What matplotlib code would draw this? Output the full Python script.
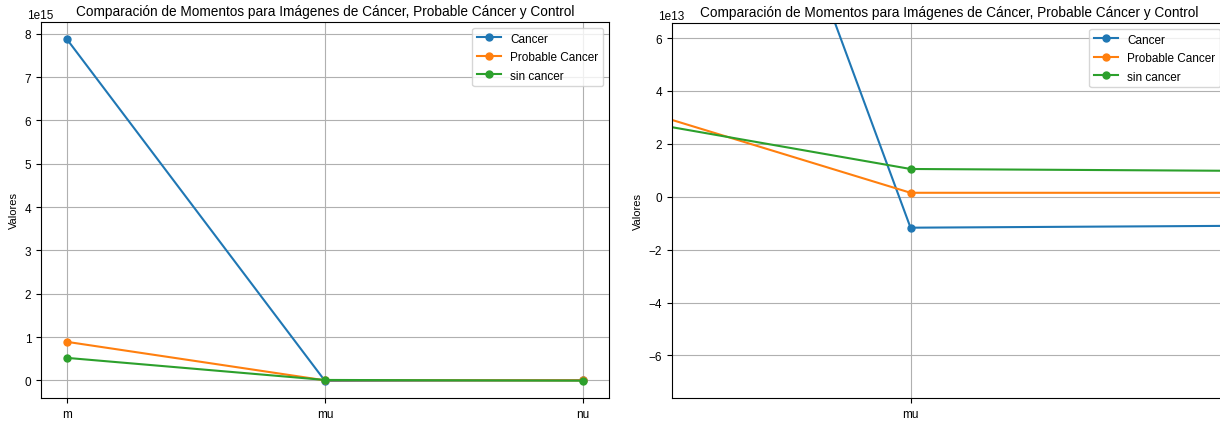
import matplotlib
matplotlib.use("Agg")
import matplotlib.pyplot as plt

plt.rcParams['font.family'] = ['Liberation Sans', 'DejaVu Sans']

momentos = ['m', 'mu', 'nu']
cancer = [7.875e15, -1.17e13, 0.5e13]
probable_cancer = [0.89e15, 0.15e13, 0.12e13]
sin_cancer = [0.52e15, 1.05e13, -0.6e13]
series = [('Cancer', cancer, '#1f77b4'),
          ('Probable Cancer', probable_cancer, '#ff7f0e'),
          ('sin cancer', sin_cancer, '#2ca02c')]

titulo = 'Comparación de Momentos para Imágenes de Cáncer, Probable Cáncer y Control'

W, H = 1220, 427
fig = plt.figure(figsize=(W / 100, H / 100), dpi=100)
ax1 = fig.add_axes([41 / W, (H - 399) / H, 568 / W, 376 / H])
ax2 = fig.add_axes([672 / W, (H - 399) / H, 554 / W, 375 / H])

x = list(range(len(momentos)))
for ax in (ax1, ax2):
    for label, vals, col in series:
        ax.plot(x, vals, marker='o', color=col, label=label, linewidth=1.5, markersize=5)
    ax.set_xticks(x)
    ax.set_xticklabels(momentos)
    ax.set_title(titulo, fontsize=9.8, pad=5)
    ax.set_xlabel('Momentos', fontsize=8.5, labelpad=5)
    ax.set_ylabel('Valores', fontsize=8)
    ax.grid(True)
    ax.tick_params(labelsize=8.5)
    ot = ax.yaxis.get_offset_text()
    ot.set_fontsize(8.5)
    ot.set_x(-0.025)
    ax.legend(loc='upper right', fontsize=8.5, framealpha=0.8, labelspacing=0.55)

ax2.set_xlim(0.969, 1.041)
ax2.set_ylim(-7.61e13, 6.57e13)

fig.savefig('out.png', dpi=100)
